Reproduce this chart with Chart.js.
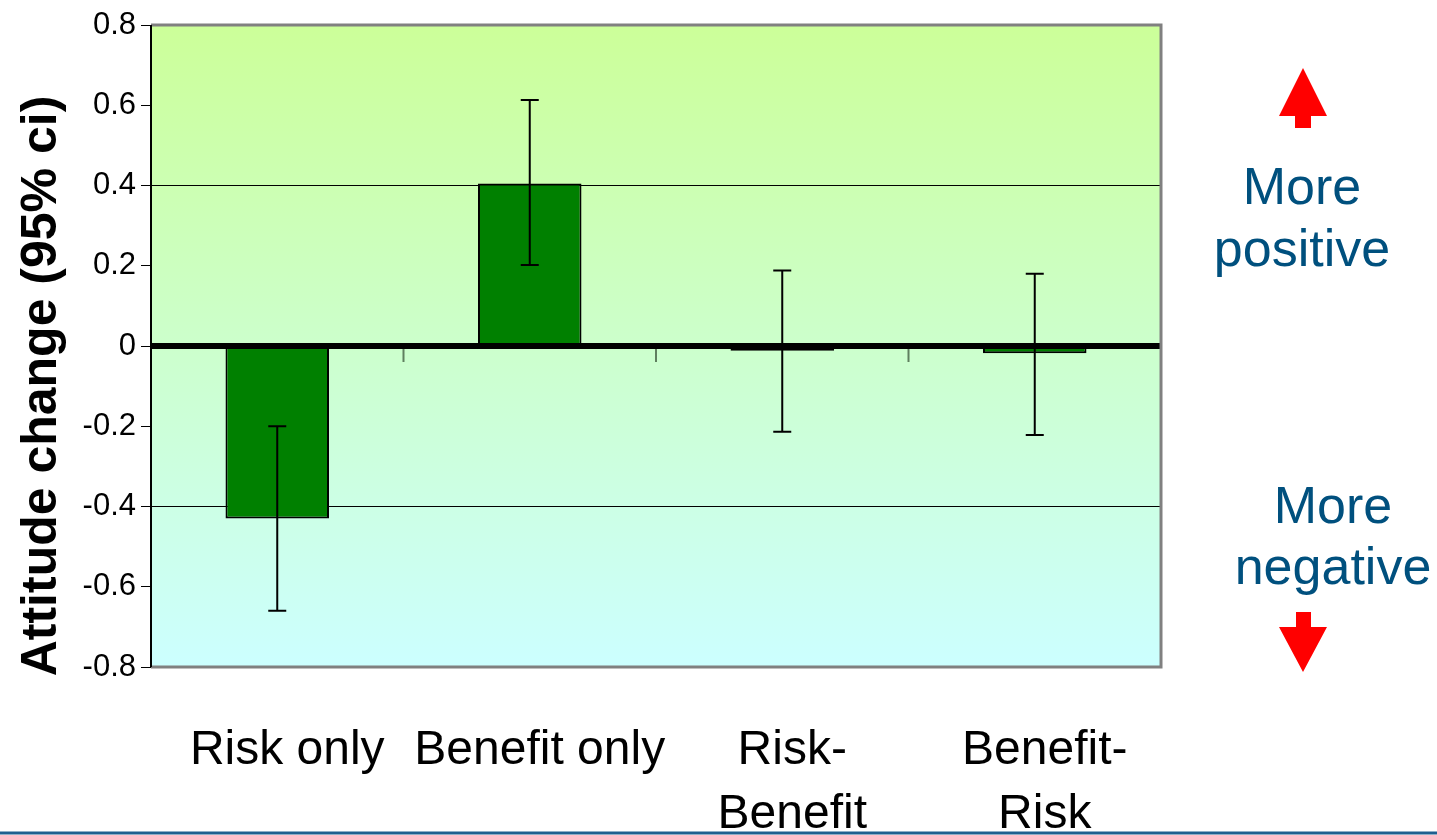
<!DOCTYPE html>
<html>
<head>
<meta charset="utf-8">
<script src="https://cdn.jsdelivr.net/npm/chart.js@4/dist/chart.umd.min.js"></script>
<style>
  html, body { margin: 0; padding: 0; background: #fff; }
  #wrap { width: 1437px; height: 835px; position: relative; }
</style>
</head>
<body>
<div id="wrap"><canvas id="grafica"></canvas></div>
<script>
var categorias = [['Risk only'], ['Benefit only'], ['Risk-', 'Benefit'], ['Benefit-', 'Risk']];
var cambio = [-0.43, 0.405, -0.012, -0.018];
var ciBajo = [-0.66, 0.202, -0.214, -0.222];
var ciAlto = [-0.20, 0.613, 0.188, 0.18];
var yTicks = [-0.8, -0.6, -0.4, -0.2, 0, 0.2, 0.4, 0.6, 0.8];
var tituloY = 'Attitude change (95% ci)';

var fuente = "'Liberation Sans', Arial, sans-serif";

// fondo degradado
const fondo = {
    id: 'fondo',
    beforeDraw(chart) {
        const a = chart.chartArea, c = chart.ctx;
        const g = c.createLinearGradient(0, a.top, 0, a.bottom);
        g.addColorStop(0, '#CCFF99');
        g.addColorStop(0.5, '#CCFFCC');
        g.addColorStop(1, '#CCFFFF');
        c.save();
        c.fillStyle = g;
        c.fillRect(a.left, a.top, a.right - a.left, a.bottom - a.top);
        c.restore();
    }
};

// linea cero, marcas de categoria, barras de error, borde
const extras = {
    id: 'extras',
    afterDatasetsDraw(chart) {
        const c = chart.ctx, a = chart.chartArea;
        const x = chart.scales.x, y = chart.scales.y;
        const y0 = y.getPixelForValue(0);
        c.save();
        // marcas entre categorias
        c.strokeStyle = '#5f7f5f';
        c.lineWidth = 2;
        for (let i = 1; i < categorias.length; i++) {
            const xm = (x.getPixelForValue(i - 1) + x.getPixelForValue(i)) / 2;
            c.beginPath();
            c.moveTo(xm, y0);
            c.lineTo(xm, y0 + 16);
            c.stroke();
        }
        // linea cero
        c.strokeStyle = '#000';
        c.lineWidth = 6;
        c.beginPath();
        c.moveTo(a.left, y0);
        c.lineTo(a.right, y0);
        c.stroke();
        // barras de error
        c.lineWidth = 2;
        for (let i = 0; i < cambio.length; i++) {
            const xc = x.getPixelForValue(i);
            const yl = y.getPixelForValue(ciBajo[i]);
            const yh = y.getPixelForValue(ciAlto[i]);
            c.beginPath();
            c.moveTo(xc, yl); c.lineTo(xc, yh);
            c.moveTo(xc - 9, yl); c.lineTo(xc + 9, yl);
            c.moveTo(xc - 9, yh); c.lineTo(xc + 9, yh);
            c.stroke();
        }
        // borde gris
        c.strokeStyle = '#808080';
        c.lineWidth = 3;
        c.beginPath();
        c.moveTo(a.left, a.top);
        c.lineTo(a.right, a.top);
        c.lineTo(a.right, a.bottom);
        c.lineTo(a.left, a.bottom);
        c.stroke();
        // eje izquierdo
        c.strokeStyle = '#000';
        c.lineWidth = 2;
        c.beginPath();
        c.moveTo(a.left, a.top);
        c.lineTo(a.left, a.bottom);
        c.stroke();
        c.restore();
    },
    afterDraw(chart) {
        const c = chart.ctx;
        c.save();
        // titulo eje y
        c.save();
        c.translate(42, 386);
        c.rotate(-Math.PI / 2);
        c.fillStyle = '#000';
        c.font = 'bold 50px ' + fuente;
        c.textAlign = 'center';
        c.textBaseline = 'middle';
        c.fillText(tituloY, 0, 0);
        c.restore();
        // textos laterales
        c.fillStyle = '#00507E';
        c.font = '52px ' + fuente;
        c.textAlign = 'center';
        c.textBaseline = 'middle';
        c.fillText('More', 1302, 190);
        c.fillText('positive', 1302, 252);
        c.fillText('More', 1333, 509);
        c.fillText('negative', 1333, 570);
        // flechas rojas
        c.fillStyle = '#FF0000';
        c.beginPath();
        c.moveTo(1303, 68);
        c.lineTo(1327, 116);
        c.lineTo(1311, 116);
        c.lineTo(1311, 128);
        c.lineTo(1295, 128);
        c.lineTo(1295, 116);
        c.lineTo(1279, 116);
        c.closePath();
        c.fill();
        c.beginPath();
        c.moveTo(1296, 612);
        c.lineTo(1311, 612);
        c.lineTo(1311, 627);
        c.lineTo(1327, 627);
        c.lineTo(1303, 672);
        c.lineTo(1279, 627);
        c.lineTo(1296, 627);
        c.closePath();
        c.fill();
        // linea azul inferior
        c.strokeStyle = '#1F5F8F';
        c.lineWidth = 3;
        c.beginPath();
        c.moveTo(0, 833);
        c.lineTo(1437, 833);
        c.stroke();
        c.restore();
    }
};

var ctx = document.getElementById('grafica').getContext('2d');
const data = {
    labels: categorias,
    datasets: [{
        label: 'Attitude change',
        data: cambio,
        backgroundColor: '#008000',
        borderColor: '#000000',
        borderWidth: 2,
        borderSkipped: false,
        barPercentage: 0.41,
        categoryPercentage: 1,
    }],
};
const config = {
    type: 'bar',
    data: data,
    plugins: [fondo, extras],
    options: {
        responsive: false,
        animation: false,
        layout: { padding: { top: 25, right: 276, left: 0, bottom: 0 } },
        plugins: { legend: { display: false }, tooltip: { enabled: false } },
        scales: {
            x: {
                grid: { display: false },
                border: { display: false },
                ticks: {
                    color: '#000',
                    font: { family: fuente, size: 48, lineHeight: 1.33 },
                    padding: 44,
                    labelOffset: 10,
                    maxRotation: 0,
                    autoSkip: false,
                },
                afterFit: function (s) { s.height = 168; },
            },
            y: {
                min: -0.8,
                max: 0.8,
                afterBuildTicks: function (s) { s.ticks = yTicks.map(v => ({ value: v })); },
                border: { display: false },
                grid: {
                    color: function (c) {
                        const v = c.tick ? c.tick.value : null;
                        return (v !== null && Math.abs(Math.abs(v) - 0.4) < 1e-6) ? '#000' : 'rgba(0,0,0,0)';
                    },
                    tickColor: '#000',
                    tickLength: 10,
                    lineWidth: 1,
                },
                ticks: {
                    color: '#000',
                    font: { family: fuente, size: 31 },
                    padding: 5,
                    callback: function (v) { return v === 0 ? '0' : v.toFixed(1); },
                },
                afterFit: function (s) { s.width = 151; },
            },
        },
    },
};
var c = document.getElementById('grafica');
c.width = 1437; c.height = 835;
miGrafica = new Chart(ctx, config);
</script>
</body>
</html>
